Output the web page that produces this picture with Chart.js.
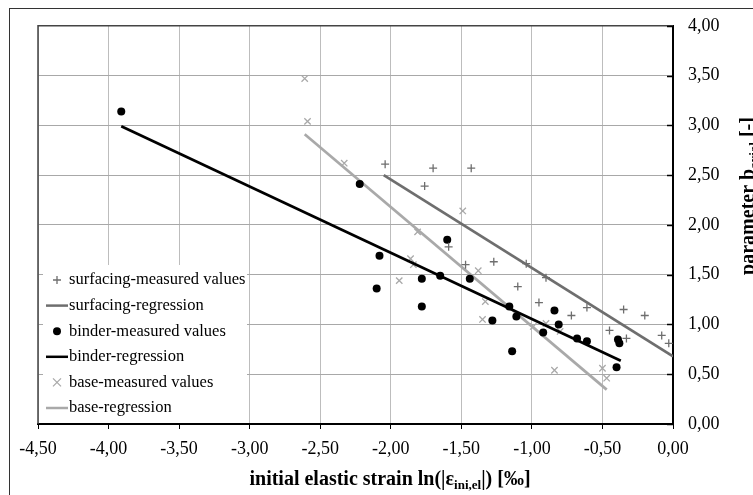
<!DOCTYPE html>
<html><head><meta charset="utf-8">
<script src="https://cdn.jsdelivr.net/npm/chart.js@4.4.1/dist/chart.umd.min.js"></script>
<style>html,body{margin:0;padding:0;background:#fff;overflow:hidden}#c{display:block}</style>
</head><body>
<canvas id="c" width="753" height="495"></canvas>
<script>
// ---- data ----
const surfX = [-2.04, -1.70, -1.43, -1.76, -1.59, -1.47, -1.27, -1.04, -1.10, -0.90, -0.95, -0.72, -0.61, -0.45, -0.35, -0.33, -0.20, -0.08, -0.03];
const surfY = [2.61, 2.57, 2.57, 2.39, 1.78, 1.60, 1.63, 1.61, 1.38, 1.47, 1.22, 1.09, 1.17, 0.94, 1.15, 0.86, 1.09, 0.89, 0.81];
const surfRegX = [-2.05, 0.00];
const surfRegY = [2.50, 0.68];

const binderX = [-3.91, -2.22, -2.08, -2.10, -1.78, -1.78, -1.60, -1.65, -1.44, -1.28, -1.16, -1.11, -1.14, -0.92, -0.84, -0.81, -0.68, -0.61, -0.39, -0.38, -0.40];
const binderY = [3.14, 2.41, 1.69, 1.36, 1.46, 1.18, 1.85, 1.49, 1.46, 1.04, 1.18, 1.08, 0.73, 0.92, 1.14, 1.00, 0.86, 0.83, 0.85, 0.81, 0.57];
const binderRegX = [-3.91, -0.37];
const binderRegY = [2.99, 0.635];

const baseX = [-2.61, -2.59, -2.33, -1.81, -1.49, -1.86, -1.84, -1.94, -1.38, -1.33, -1.35, -0.99, -0.90, -0.80, -0.84, -0.50, -0.47];
const baseY = [3.47, 3.04, 2.62, 1.93, 2.14, 1.66, 1.60, 1.44, 1.54, 1.23, 1.05, 0.98, 1.01, 0.93, 0.54, 0.56, 0.46];
const baseRegX = [-2.61, -0.47];
const baseRegY = [2.91, 0.345];

const xTicks = [-4.5, -4.0, -3.5, -3.0, -2.5, -2.0, -1.5, -1.0, -0.5, 0.0];
const yTicks = [0.0, 0.5, 1.0, 1.5, 2.0, 2.5, 3.0, 3.5, 4.0];
const seriesLabels = ['surfacing-measured values', 'surfacing-regression', 'binder-measured values', 'binder-regression', 'base-measured values', 'base-regression'];

// ---- styles ----
const C_SURF = '#6e6e6e', C_BIND = '#000000', C_BASE = '#a9a9a9';
const SERIF = '"Liberation Serif", "Times New Roman", serif';
const pts = (xs, ys) => xs.map((x, i) => ({x, y: ys[i]}));
const fmt = v => v.toFixed(2).replace('.', ',');

const decor = {
  id: 'decor',
  beforeDraw(chart) {
    const ctx = chart.ctx;
    ctx.save();
    ctx.fillStyle = '#fff';
    ctx.fillRect(0, 0, chart.width, chart.height);
    ctx.strokeStyle = '#333';
    ctx.lineWidth = 1;
    ctx.strokeRect(9.5, 8.5, 800, 600);
    ctx.restore();
  },
  beforeDatasetsDraw(chart) {
    const ctx = chart.ctx, a = chart.chartArea;
    const ds = chart.data.datasets;
    ctx.save();
    // legend box
    ctx.fillStyle = '#fff';
    ctx.fillRect(43, 265, 204, a.bottom - 266);
    // plot frame top & left
    ctx.strokeStyle = '#444';
    ctx.lineWidth = 1.5;
    ctx.beginPath();
    ctx.moveTo(a.left, a.bottom); ctx.lineTo(a.left, a.top); ctx.lineTo(a.right, a.top);
    ctx.stroke();
    // inward y ticks
    const ys = chart.scales.y;
    ctx.strokeStyle = '#000';
    ctx.lineWidth = 1.5;
    yTicks.forEach(v => {
      const py = Math.round(ys.getPixelForValue(v)) + 0.5;
      ctx.beginPath(); ctx.moveTo(a.right - 6, py); ctx.lineTo(a.right, py); ctx.stroke();
    });
    // legend entries
    ctx.font = '16.5px ' + SERIF;
    ctx.textBaseline = 'middle';
    ctx.textAlign = 'left';
    ctx.fillStyle = '#000';
    const y0 = 280, dy = 25.6;
    ds.forEach((d, i) => {
      const cy = y0 + i * dy;
      const cx = 57;
      ctx.save();
      if (d.showLine) {
        ctx.strokeStyle = d.borderColor; ctx.lineWidth = 2.5;
        ctx.beginPath(); ctx.moveTo(46, cy); ctx.lineTo(68, cy); ctx.stroke();
      } else if (d.pointStyle === 'circle') {
        ctx.fillStyle = d.pointBackgroundColor;
        ctx.beginPath(); ctx.arc(cx, cy, 4, 0, Math.PI * 2); ctx.fill();
      } else if (d.pointStyle === 'cross') {
        ctx.strokeStyle = d.pointBorderColor; ctx.lineWidth = 1.3;
        ctx.beginPath(); ctx.moveTo(cx - 4, cy); ctx.lineTo(cx + 4, cy);
        ctx.moveTo(cx, cy - 4); ctx.lineTo(cx, cy + 4); ctx.stroke();
      } else {
        ctx.strokeStyle = d.pointBorderColor; ctx.lineWidth = 1.3;
        ctx.beginPath(); ctx.moveTo(cx - 4, cy - 4); ctx.lineTo(cx + 4, cy + 4);
        ctx.moveTo(cx + 4, cy - 4); ctx.lineTo(cx - 4, cy + 4); ctx.stroke();
      }
      ctx.restore();
      ctx.fillText(d.label, 69, cy);
    });
    ctx.restore();
  },
  afterDraw(chart) {
    const ctx = chart.ctx;
    ctx.save();
    ctx.fillStyle = '#000';
    ctx.textBaseline = 'alphabetic';
    // x title with subscript
    const big = 'bold 20px ' + SERIF, small = 'bold 13px ' + SERIF;
    const parts = [['initial elastic strain ln(|ε', big, 0], ['ini,el', small, 4], ['|) [‰]', big, 0]];
    let w = 0;
    parts.forEach(p => { ctx.font = p[1]; w += ctx.measureText(p[0]).width; });
    let x = 390 - w / 2;
    const by = 485;
    parts.forEach(p => { ctx.font = p[1]; ctx.fillText(p[0], x, by + p[2]); x += ctx.measureText(p[0]).width; });
    // y title rotated
    ctx.translate(754, 196);
    ctx.rotate(-Math.PI / 2);
    const yparts = [['parameter b', big, 0], ['axial', small, 4], [' [-]', big, 0]];
    w = 0;
    yparts.forEach(p => { ctx.font = p[1]; w += ctx.measureText(p[0]).width; });
    x = -w / 2;
    yparts.forEach(p => { ctx.font = p[1]; ctx.fillText(p[0], x, p[2]); x += ctx.measureText(p[0]).width; });
    ctx.restore();
  }
};

new Chart(document.getElementById('c'), {
  type: 'scatter',
  data: {
    datasets: [
      { label: seriesLabels[0], data: pts(surfX, surfY), pointStyle: 'cross', pointRadius: 4, pointBorderWidth: 1.3, pointBorderColor: C_SURF, pointBackgroundColor: C_SURF, borderColor: C_SURF, showLine: false },
      { label: seriesLabels[1], data: pts(surfRegX, surfRegY), showLine: true, borderColor: C_SURF, borderWidth: 2.7, pointRadius: 0 },
      { label: seriesLabels[2], data: pts(binderX, binderY), pointStyle: 'circle', pointRadius: 4, pointBorderWidth: 0, pointBorderColor: C_BIND, pointBackgroundColor: C_BIND, borderColor: C_BIND, showLine: false },
      { label: seriesLabels[3], data: pts(binderRegX, binderRegY), showLine: true, borderColor: C_BIND, borderWidth: 2.7, pointRadius: 0 },
      { label: seriesLabels[4], data: pts(baseX, baseY), pointStyle: 'crossRot', pointRadius: 4.5, pointBorderWidth: 1.3, pointBorderColor: C_BASE, pointBackgroundColor: C_BASE, borderColor: C_BASE, showLine: false },
      { label: seriesLabels[5], data: pts(baseRegX, baseRegY), showLine: true, borderColor: C_BASE, borderWidth: 2.7, pointRadius: 0 }
    ]
  },
  options: {
    responsive: false,
    animation: false,
    devicePixelRatio: 1,
    layout: { padding: { left: 38, top: 22, right: 0, bottom: 0 } },
    plugins: { legend: { display: false }, tooltip: { enabled: false } },
    scales: {
      x: {
        type: 'linear', position: 'bottom', min: -4.5, max: 0,
        afterBuildTicks: s => { s.ticks = xTicks.map(v => ({value: v})); },
        afterFit: s => { s.height = 71; },
        grid: { color: '#bdbdbd', lineWidth: 1, drawTicks: true, tickLength: 5, tickColor: '#000' },
        border: { color: '#000', width: 2 },
        ticks: { callback: v => fmt(v), color: '#000', font: { family: SERIF, size: 18 }, padding: 9, maxRotation: 0, autoSkip: false }
      },
      y: {
        type: 'linear', position: 'right', min: 0, max: 4,
        afterBuildTicks: s => { s.ticks = yTicks.map(v => ({value: v})); },
        afterFit: s => { s.width = 80; },
        grid: { color: '#a8a8a8', lineWidth: 1, drawTicks: false },
        border: { color: '#000', width: 2 },
        ticks: { callback: v => fmt(v), color: '#000', font: { family: SERIF, size: 18 }, padding: 15, autoSkip: false }
      }
    }
  },
  plugins: [decor]
});
</script>
</body></html>
